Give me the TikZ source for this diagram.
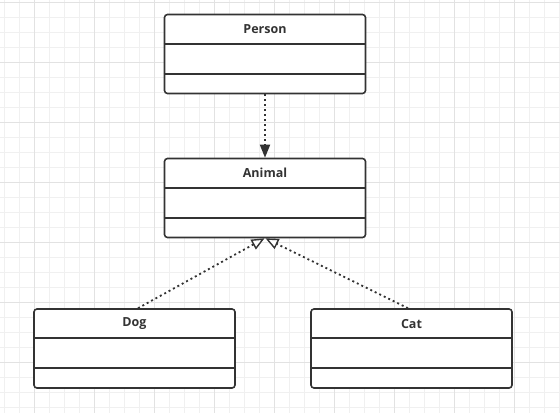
\documentclass[tikz,border=0pt]{standalone}
\usepackage{fontspec}
\setmainfont{Open Sans}
\usetikzlibrary{arrows.meta}
\definecolor{ink}{HTML}{333333}
\definecolor{gridminor}{HTML}{F0F0F0}
\definecolor{gridmajor}{HTML}{E2E2E2}
\tikzset{
  classbox/.style={draw=ink, line width=1.6pt, rounded corners=3pt, fill=white,
    minimum width=201pt, minimum height=79pt, inner sep=0pt},
  divider/.style={draw=ink, line width=1.6pt},
  classtitle/.style={text=ink, font=\bfseries\fontsize{12.5}{14}\selectfont, inner sep=0pt},
  dep/.style={draw=ink, line width=1.8pt, dash pattern=on 2pt off 3pt,
    -{Triangle[length=13pt, width=10pt, fill=ink]}},
  realize/.style={draw=ink, line width=1.8pt, dash pattern=on 2pt off 3pt,
    -{Triangle[open, length=13pt, width=11pt, line width=1.4pt, fill=white]}}
}
\begin{document}
\begin{tikzpicture}[x=1pt, y=-1pt]
\useasboundingbox (0,0) rectangle (560,413);
\fill[white] (0,0) rectangle (560,413);
% grid
\foreach \x in {4,19,...,559} \draw[gridminor, line width=0.8pt] (\x,0) -- (\x,413);
\foreach \y in {2,17,...,412} \draw[gridminor, line width=0.8pt] (0,\y) -- (560,\y);
\foreach \x in {34,94,...,559} \draw[gridmajor, line width=0.8pt] (\x,0) -- (\x,413);
\foreach \y in {2,62,...,412} \draw[gridmajor, line width=0.8pt] (0,\y) -- (560,\y);
% classes
\node[classbox] (person) at (265,54) {};
\node[classbox] (animal) at (265,198) {};
\node[classbox] (dog) at (134.5,348.5) {};
\node[classbox] (cat) at (411.5,348.5) {};
\foreach \n in {person,animal,dog,cat} {
  \draw[divider] ([yshift=-30pt]\n.north west) -- ([yshift=-30pt]\n.north east);
  \draw[divider] ([yshift=-60pt]\n.north west) -- ([yshift=-60pt]\n.north east);
}
\node[classtitle] (tperson) at ([yshift=-15.5pt]person.north) {Person};
\node[classtitle] (tanimal) at ([yshift=-15.5pt]animal.north) {Animal};
\node[classtitle] (tdog) at ([yshift=-15.5pt]dog.north) {Dog};
\node[classtitle] (tcat) at ([yshift=-15.5pt]cat.north) {Cat};
% connectors
\draw[dep] (person.south) -- (animal.north);
\draw[realize] ([xshift=3.5pt]dog.north) -- ([xshift=-0.5pt]animal.south);
\draw[realize] ([xshift=-3.5pt]cat.north) -- ([xshift=0.5pt]animal.south);
\end{tikzpicture}
\end{document}
